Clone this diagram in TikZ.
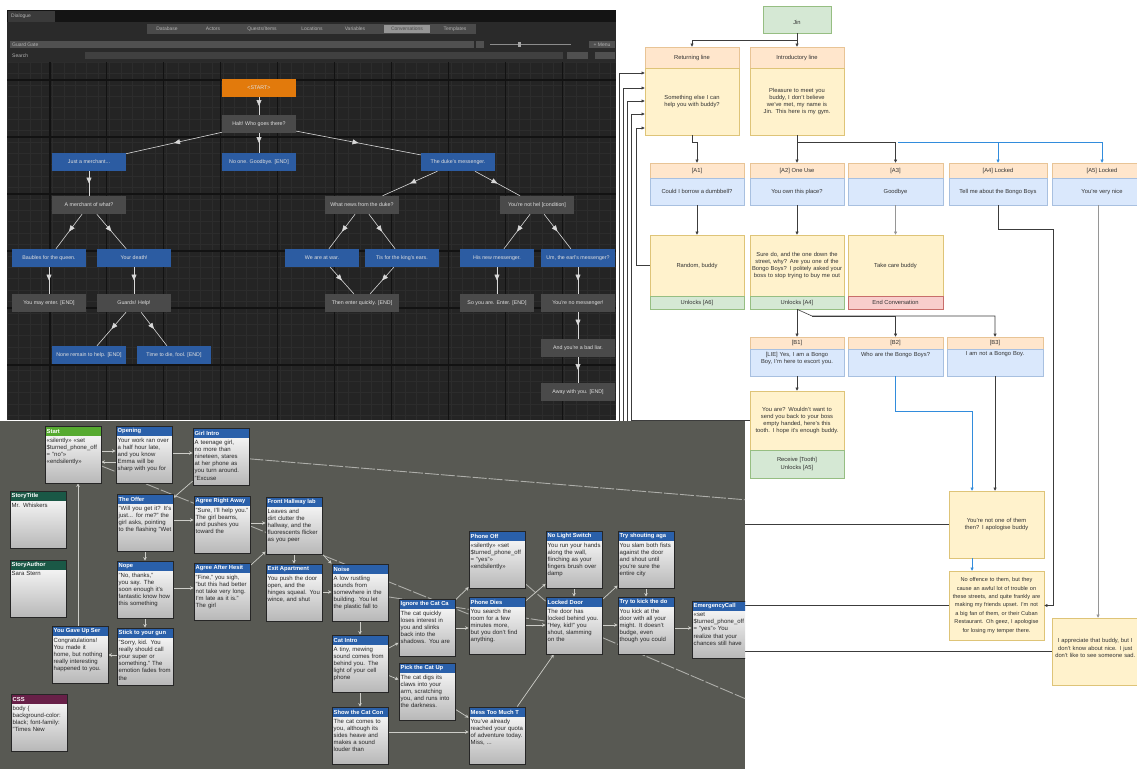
\documentclass[tikz,border=0pt]{standalone}
\usepackage{fontspec}
\setmainfont{Liberation Sans}
\usetikzlibrary{arrows.meta,decorations.markings}
\hyphenpenalty=10000
\exhyphenpenalty=10000
\pgfdeclarelayer{rpl}\pgfdeclarelayer{tpl}\pgfdeclarelayer{bpl}\pgfdeclarelayer{lnl}
\pgfsetlayers{rpl,tpl,bpl,lnl,main}
% top panel colours
\definecolor{tpbg}{RGB}{30,30,30}
\definecolor{tptitle}{RGB}{20,20,20}
\definecolor{tptab}{RGB}{58,58,58}
\definecolor{tptool}{RGB}{42,42,42}
\definecolor{tabbar}{RGB}{74,74,74}
\definecolor{tabhi}{RGB}{150,150,150}
\definecolor{fld}{RGB}{80,80,80}
\definecolor{gridbg}{RGB}{36,36,36}
\definecolor{gminor}{RGB}{44,44,44}
\definecolor{gmajor}{RGB}{18,18,18}
\definecolor{tgrayc}{RGB}{74,74,74}
\definecolor{tbluec}{RGB}{44,92,162}
\definecolor{torc}{RGB}{226,122,12}
% bottom panel colours
\definecolor{bpbg}{RGB}{88,89,83}
\definecolor{twblue}{RGB}{42,96,170}
\definecolor{twgreen}{RGB}{86,170,48}
\definecolor{twteal}{RGB}{26,88,70}
\definecolor{twpurple}{RGB}{104,32,72}
\definecolor{twlc}{RGB}{205,205,200}
% right panel colours
\definecolor{hdrf}{RGB}{255,230,204}
\definecolor{hdrd}{RGB}{232,196,150}
\definecolor{yelf}{RGB}{255,242,204}
\definecolor{yeld}{RGB}{222,196,120}
\definecolor{bluf}{RGB}{218,232,252}
\definecolor{blud}{RGB}{168,192,224}
\definecolor{grnf}{RGB}{213,232,212}
\definecolor{grnd}{RGB}{150,190,130}
\definecolor{redf}{RGB}{248,206,204}
\definecolor{redd}{RGB}{200,110,106}
\definecolor{rtc}{RGB}{50,50,50}
\definecolor{lnc}{RGB}{60,60,60}
\definecolor{blc}{RGB}{50,140,220}
\definecolor{glc}{RGB}{150,150,150}
\tikzset{
  tn/.style={minimum width=74pt, minimum height=18pt, inner sep=0pt, font=\fontsize{5.3}{6}\selectfont, text=white!88!black},
  tgray/.style={tn, fill=tgrayc},
  tblue/.style={tn, fill=tbluec},
  tor/.style={tn, fill=torc},
  tpt/.style={inner sep=0pt, font=\fontsize{5}{5.5}\selectfont, text=white!70!black},
  tedge/.style={draw=white!85!black, line width=0.6pt, postaction={decorate},
    decoration={markings, mark=at position 0.5 with {\arrow{Triangle[length=6pt,width=5pt]}}}},
  twtitle/.style={inner sep=0pt, font=\bfseries\fontsize{5.8}{6.5}\selectfont, text=white},
  twbody/.style={inner sep=0pt, text width=53pt, align=left, font=\fontsize{6}{7.2}\selectfont, text=black!85},
  twframe/.style={draw=black!85, line width=0.9pt, minimum width=56pt, minimum height=57pt, inner sep=0pt},
  twl/.style={draw=twlc, line width=0.7pt, -{Stealth[length=3.5pt,width=3.5pt]}},
  twlong/.style={draw=twlc!85!black, line width=0.9pt, dash pattern=on 14pt off 2pt},
  rpb/.style={inner sep=1pt, font=\fontsize{5.8}{7.2}\selectfont, text=rtc, align=center, line width=0.5pt},
  hd/.style={rpb, fill=hdrf, draw=hdrd},
  yb/.style={rpb, fill=yelf, draw=yeld},
  bb/.style={rpb, fill=bluf, draw=blud},
  gb/.style={rpb, fill=grnf, draw=grnd},
  rb/.style={rpb, fill=redf, draw=redd},
  rpa/.style={draw=lnc, line width=0.6pt, -{Triangle[length=3.2pt,width=3pt]}},
  rpab/.style={draw=blc, line width=0.6pt, -{Triangle[length=3.2pt,width=3pt]}},
  rpag/.style={draw=glc, line width=0.6pt, -{Triangle[length=3.2pt,width=3pt]}},
}
\newcommand\twbox[6]{%
  \begin{scope}
    \clip (0,421) rectangle (745,769);
    \begin{scope}
      \clip (#2,#3) rectangle ++(56,57);
      \shade[top color=white, bottom color=black!28] (#2,#3) rectangle ++(56,57);
      \fill[#4] (#2,#3) rectangle ++(56,10);
      \node[twtitle, anchor=west] (#1-t) at (#2+1.5,#3+5.2) {#5};
      \node[twbody, anchor=north west] (#1-b) at (#2+1.5,#3+11.5) {#6};
    \end{scope}
    \node[twframe] (#1) at (#2+28,#3+28.5) {};
  \end{scope}}
\begin{document}
\begin{tikzpicture}[x=1pt,y=-1pt]
\useasboundingbox (0,0) rectangle (1137,769);
%================ RIGHT PANEL =================
\begin{pgfonlayer}{rpl}
\fill[white] (0,0) rectangle (1137,769);
\node[gb, minimum width=68pt, minimum height=27pt] (jin) at (797,19.5) {\\[2pt]Jin};
\node[hd, minimum width=94pt, minimum height=21pt] (retH) at (692,57.5) {Returning line};
\node[yb, minimum width=94pt, minimum height=67pt, text width=86pt] (retB) at (692,101.5) {Something else I can help you with buddy?};
\node[hd, minimum width=94pt, minimum height=21pt] (intH) at (797,57.5) {Introductory line};
\node[yb, minimum width=94pt, minimum height=67pt, text width=88pt] (intB) at (797,101.5) {Pleasure to meet you buddy, I don't believe we've met, my name is Jin. This here is my gym.};
% A row
\node[hd, minimum width=94pt, minimum height=15pt] (a1H) at (697,170.5) {[A1]};
\node[bb, minimum width=94pt, minimum height=27pt] (a1B) at (697,191.5) {Could I borrow a dumbbell?};
\node[hd, minimum width=94pt, minimum height=15pt] (a2H) at (797,170.5) {[A2] One Use};
\node[bb, minimum width=94pt, minimum height=27pt] (a2B) at (797,191.5) {You own this place?};
\node[hd, minimum width=95pt, minimum height=15pt] (a3H) at (895.5,170.5) {[A3]};
\node[bb, minimum width=95pt, minimum height=27pt] (a3B) at (895.5,191.5) {Goodbye};
\node[hd, minimum width=98pt, minimum height=15pt] (a4H) at (998,170.5) {[A4] Locked};
\node[bb, minimum width=98pt, minimum height=27pt] (a4B) at (998,191.5) {Tell me about the Bongo Boys};
\node[hd, minimum width=100pt, minimum height=15pt] (a5H) at (1102,170.5) {[A5] Locked};
\node[bb, minimum width=100pt, minimum height=27pt] (a5B) at (1102,191.5) {You're very nice};
% responses
\node[yb, minimum width=94pt, minimum height=61pt] (r1B) at (697,265.5) {Random, buddy};
\node[gb, minimum width=94pt, minimum height=13pt] (r1F) at (697,302.5) {Unlocks [A6]};
\node[yb, minimum width=94pt, minimum height=61pt, text width=90pt] (r2B) at (797,265.5) {Sure do, and the one down the street, why? Are you one of the Bongo Boys? I politely asked your boss to stop trying to buy me out};
\node[gb, minimum width=94pt, minimum height=13pt] (r2F) at (797,302.5) {Unlocks [A4]};
\node[yb, minimum width=95pt, minimum height=61pt] (r3B) at (895.5,265.5) {Take care buddy};
\node[rb, minimum width=95pt, minimum height=13pt] (r3F) at (895.5,302.5) {End Conversation};
% B row
\node[hd, minimum width=94pt, minimum height=12pt] (b1H) at (797,343) {[B1]};
\node[bb, minimum width=94pt, minimum height=27pt] (b1B) at (797,362.5) {};
\node[rpb, anchor=north, text width=90pt] (b1T) at ([yshift=-2pt]b1B.north) {[LIE] Yes, I am a Bongo Boy, I'm here to escort you.};
\node[hd, minimum width=95pt, minimum height=12pt] (b2H) at (895.5,343) {[B2]};
\node[bb, minimum width=95pt, minimum height=27pt] (b2B) at (895.5,362.5) {};
\node[rpb, anchor=north, text width=90pt] (b2T) at ([yshift=-2pt]b2B.north) {Who are the Bongo Boys?};
\node[hd, minimum width=96pt, minimum height=12pt] (b3H) at (995,343) {[B3]};
\node[bb, minimum width=96pt, minimum height=27pt] (b3B) at (995,362.5) {};
\node[rpb, anchor=north, text width=90pt] (b3T) at ([yshift=-2pt]b3B.north) {I am not a Bongo Boy.};
\node[yb, minimum width=94pt, minimum height=59pt, text width=90pt] (b1rB) at (797,420.5) {You are? Wouldn't want to send you back to your boss empty handed, here's this tooth. I hope it's enough buddy.};
\node[gb, minimum width=94pt, minimum height=28pt] (b1rF) at (797,464) {Receive [Tooth]\\Unlocks [A5]};
\node[yb, minimum width=95pt, minimum height=67pt, text width=88pt] (notone) at (996.5,524.5) {You're not one of them then? I apologise buddy};
\node[yb, minimum width=95pt, minimum height=69pt, text width=92pt, font=\fontsize{5.6}{8.4}\selectfont] (nooff) at (996.5,605.5) {No offence to them, but they cause an awful lot of trouble on these streets, and quite frankly are making my friends upset. I'm not a big fan of them, or their Cuban Restaurant. Oh geez, I apologise for losing my temper there.};
\node[yb, minimum width=100pt, minimum height=67pt] (appr) at (1102,651.5) {};
\node[rpb, anchor=west, text width=82pt] (apprT) at (1053,648) {I appreciate that buddy, but I don't know about nice. I just don't like to see someone sad.};
% connectors
\coordinate (jb) at (797,40);
\draw[rpa] (jin.south) -- (jb) -| (retH.north);
\draw[rpa] (jin.south) -- (intH.north);
\coordinate (bus) at (797,142);
\coordinate (busb) at (898,142);
\draw[rpa] (retB.south) -- ++(0,7) -| (a1H.north);
\draw[rpa] (intB.south) -- (a2H.north);
\draw[rpa] (intB.south) -- (bus) -| (a3H.north);
\draw[rpab] (busb) -| (a4H.north);
\draw[rpab] (busb) -| (a5H.north);
\draw[rpa] (a1B.south) -- (r1B.north);
\draw[rpa] (a2B.south) -- (r2B.north);
\draw[rpag] (a3B.south) -- (r3B.north);
\coordinate (bs) at (812,316);
\draw[rpa] (r2F.south) -- (b1H.north);
\draw[rpa] (r2F.south) -- (bs) -| (b3H.north);
\draw[rpa] (bs) -| (b2H.north);
\draw[rpa] (b1B.south) -- (b1rB.north);
\coordinate (nb) at (972,411);
\draw[rpab] (b2B.south) |- (nb) -- (nb |- notone.north);
\draw[rpa] (b3B.south) -- (b3B.south |- notone.north);
\draw[rpab] (notone.south -| nb) -- (nooff.north -| nb);
\coordinate (a4c) at (1053,229);
\draw[rpa] (a4B.south) |- (a4c) |- (nooff.east);
\draw[rpag] (a5B.south -| 1098,0) -- (appr.north -| 1098,0);
% returns to Returning line
\coordinate (rt1) at (636,128);
\coordinate (rt2) at (631,114);
\coordinate (rt3) at (627,101);
\coordinate (rt4) at (623,88);
\coordinate (rt5) at (619,73);
\draw[rpa] (r1B.west) -| (rt1) -- (rt1 -| retB.west);
\draw[rpa] (b1rB.west) -| (rt2) -- (rt2 -| retB.west);
\draw[rpa] (notone.west) -| (rt3) -- (rt3 -| retB.west);
\draw[rpa] (nooff.west) -| (rt4) -- (rt4 -| retB.west);
\draw[rpa] (appr.west) -| (rt5) -- (rt5 -| retB.west);
\end{pgfonlayer}
%================ TOP PANEL =================
\begin{pgfonlayer}{tpl}
\fill[tpbg] (7,10) rectangle (616,420);
\fill[tptitle] (7,10) rectangle (616,22);
\fill[tptab] (8,11) rectangle (55,22);
\node[tpt, anchor=west] (dlg) at (11,16.5) {Dialogue};
\fill[tptool] (7,22) rectangle (616,62);
\fill[tabbar] (147,24) rectangle (476,34);
\fill[tabhi] (384,25) rectangle (430,33);
\node[tpt] (tab1) at (167,29) {Database};
\node[tpt] (tab2) at (213,29) {Actors};
\node[tpt] (tab3) at (262,29) {Quests/Items};
\node[tpt] (tab4) at (312,29) {Locations};
\node[tpt] (tab5) at (355,29) {Variables};
\node[tpt, text=black!70] (tab6) at (407,29) {Conversations};
\node[tpt] (tab7) at (455,29) {Templates};
\fill[fld] (10,41) rectangle (474,48);
\node[tpt, anchor=west] (gg) at (12,44.5) {Guard Gate};
\fill[fld] (476,41) rectangle (484,48);
\draw[white!55!black, line width=0.5pt] (490,44.5) -- (571,44.5);
\fill[white!65!black] (518,42) rectangle (521,47);
\fill[fld] (589,41) rectangle (615,48);
\node[tpt] (menu) at (602,44.5) {+ Menu};
\node[tpt, anchor=west] (srch) at (12,55.5) {Search};
\fill[fld!80!black] (85,52) rectangle (563,59);
\fill[fld] (567,52) rectangle (588,59);
\fill[fld] (595,52) rectangle (615,59);
\fill[gridbg] (7,62) rectangle (616,420);
\begin{scope}
\clip (7,62) rectangle (616,420);
\foreach \i in {0,...,54} {\draw[gminor, line width=0.4pt] ({7+\i*11.38},62) -- ({7+\i*11.38},420);}
\foreach \j in {0,...,32} {\draw[gminor, line width=0.4pt] (7,{62+\j*11.4}) -- (616,{62+\j*11.4});}
\foreach \i in {-1,0,...,10} {\draw[gmajor, line width=1.1pt] ({50+\i*56.9},62) -- ({50+\i*56.9},420);}
\foreach \j in {0,...,6} {\draw[gmajor, line width=1.1pt] (7,{80+\j*57}) -- (616,{80+\j*57});}
\end{scope}
\node[tor] (tStart) at (259,88) {<START>};
\node[tgray] (tHalt) at (259,124) {Halt! Who goes there?};
\node[tblue] (tJust) at (89,162) {Just a merchant...};
\node[tblue] (tNoOne) at (259,162) {No one. Goodbye. [END]};
\node[tblue] (tDuke) at (458,162) {The duke's messenger.};
\node[tgray] (tMerch) at (89,205) {A merchant of what?};
\node[tgray] (tNews) at (362,205) {What news from the duke?};
\node[tgray] (tNotHel) at (537,205) {You're not hel [condition]};
\node[tblue] (tBaub) at (49,258) {Baubles for the queen.};
\node[tblue] (tDeath) at (134,258) {Your death!};
\node[tblue] (tWar) at (322,258) {We are at war.};
\node[tblue] (tTis) at (402,258) {Tis for the king's ears.};
\node[tblue] (tHis) at (497,258) {His new messenger.};
\node[tblue] (tEarl) at (578,258) {Um, the earl's messenger?};
\node[tgray] (tMay) at (49,303) {You may enter. [END]};
\node[tgray] (tGuards) at (134,303) {Guards! Help!};
\node[tgray] (tThen) at (362,303) {Then enter quickly. [END]};
\node[tgray] (tSo) at (497,303) {So you are. Enter. [END]};
\node[tgray] (tNoMess) at (578,303) {You're no messenger!};
\node[tblue] (tNone) at (89,355) {None remain to help. [END]};
\node[tblue] (tTime) at (174,355) {Time to die, fool. [END]};
\node[tgray] (tLiar) at (578,348) {And you're a bad liar.};
\node[tgray] (tAway) at (578,392) {Away with you. [END]};
\draw[tedge] (tStart) -- (tHalt);
\draw[tedge] (tHalt) -- (tJust);
\draw[tedge] (tHalt) -- (tNoOne);
\draw[tedge] (tHalt) -- (tDuke);
\draw[tedge] (tJust) -- (tMerch);
\draw[tedge] (tDuke) -- (tNews);
\draw[tedge] (tDuke) -- (tNotHel);
\draw[tedge] (tMerch) -- (tBaub);
\draw[tedge] (tMerch) -- (tDeath);
\draw[tedge] (tBaub) -- (tMay);
\draw[tedge] (tDeath) -- (tGuards);
\draw[tedge] (tGuards) -- (tNone);
\draw[tedge] (tGuards) -- (tTime);
\draw[tedge] (tNews) -- (tWar);
\draw[tedge] (tNews) -- (tTis);
\draw[tedge] (tWar) -- (tThen);
\draw[tedge] (tTis) -- (tThen);
\draw[tedge] (tNotHel) -- (tHis);
\draw[tedge] (tNotHel) -- (tEarl);
\draw[tedge] (tHis) -- (tSo);
\draw[tedge] (tEarl) -- (tNoMess);
\draw[tedge] (tNoMess) -- (tLiar);
\draw[tedge] (tLiar) -- (tAway);
\end{pgfonlayer}
%================ BOTTOM PANEL =================
\begin{pgfonlayer}{bpl}
\fill[bpbg] (0,421) rectangle (745,769);
\end{pgfonlayer}
\twbox{start}{45}{426}{twgreen}{Start}{<<silently>> <<set \$turned\_phone\_off = "no">> <<endsilently>>}
\twbox{opening}{116}{426}{twblue}{Opening}{Your work ran over a half hour late, and you know Emma will be sharp with you for}
\twbox{girl}{193}{428}{twblue}{Girl Intro}{A teenage girl, no more than nineteen, stares at her phone as you turn around. "Excuse}
\twbox{stitle}{10}{491}{twteal}{StoryTitle}{Mr. Whiskers}
\twbox{sauthor}{10}{560}{twteal}{StoryAuthor}{Sara Stern}
\twbox{offer}{117}{494}{twblue}{The Offer}{"Will you get it? It's just... for me?" the girl asks, pointing to the flashing "Wet}
\twbox{agreeright}{194}{496}{twblue}{Agree Right Away}{"Sure, I'll help you." The girl beams, and pushes you toward the}
\twbox{front}{266}{497}{twblue}{Front Hallway lab}{Leaves and dirt clutter the hallway, and the fluorescents flicker as you peer}
\twbox{nope}{117}{561}{twblue}{Nope}{"No, thanks," you say. The soon enough it's fantastic know how this something}
\twbox{agreeafter}{194}{563}{twblue}{Agree After Hesit}{"Fine," you sigh, "but this had better not take very long. I'm late as it is." The girl}
\twbox{exit}{266}{564}{twblue}{Exit Apartment}{You push the door open, and the hinges squeal. You wince, and shut}
\twbox{gaveup}{52}{626}{twblue}{You Gave Up Ser}{Congratulations! You made it home, but nothing really interesting happened to you.}
\twbox{stick}{117}{628}{twblue}{Stick to your gun}{"Sorry, kid. You really should call your super or something." The emotion fades from the}
\twbox{css}{11}{694}{twpurple}{CSS}{body \{ background-color: black; font-family: "Times New}
\twbox{noise}{332}{564}{twblue}{Noise}{A low rustling sounds from somewhere in the building. You let the plastic fall to}
\twbox{catintro}{332}{635}{twblue}{Cat Intro}{A tiny, mewing sound comes from behind you. The light of your cell phone}
\twbox{showcat}{332}{707}{twblue}{Show the Cat Con}{The cat comes to you, although its sides heave and makes a sound louder than}
\twbox{ignorecat}{399}{599}{twblue}{Ignore the Cat Ca}{The cat quickly loses interest in you and slinks back into the shadows. You are}
\twbox{pickcat}{399}{663}{twblue}{Pick the Cat Up}{The cat digs its claws into your arm, scratching you, and runs into the darkness.}
\twbox{phoneoff}{469}{531}{twblue}{Phone Off}{<<silently>> <<set \$turned\_phone\_off = "yes">> <<endsilently>>}
\twbox{phonedies}{469}{597}{twblue}{Phone Dies}{You search the room for a few minutes more, but you don't find anything.}
\twbox{mess}{469}{707}{twblue}{Mess Too Much T}{You've already reached your quota of adventure today. Miss, ...}
\twbox{nolight}{546}{531}{twblue}{No Light Switch}{You run your hands along the wall, flinching as your fingers brush over damp}
\twbox{locked}{546}{597}{twblue}{Locked Door}{The door has locked behind you. "Hey, kid!" you shout, slamming on the}
\twbox{tryshout}{618}{531}{twblue}{Try shouting aga}{You slam both fists against the door and shout until you're sure the entire city}
\twbox{trykick}{618}{597}{twblue}{Try to kick the do}{You kick at the door with all your might. It doesn't budge, even though you could}
\twbox{emergency}{692}{601}{twblue}{EmergencyCall}{<<set \$turned\_phone\_off = "yes">> You realize that your chances still have}
\begin{pgfonlayer}{lnl}
\begin{scope}
\clip (0,421) rectangle (745,769);
\coordinate (offR1) at (760,501);
\coordinate (offR2) at (760,705);
\draw[twlong] (girl) -- (offR1);
\draw[twlong] (start) -- (phonedies);
\draw[twlong] (noise) -- (locked);
\draw[twlong] (phoneoff) -- (locked);
\draw[twlong] (locked) -- (offR2);
\draw[twl] (start.east |- 0,451) -- (opening.west |- 0,451);
\draw[twl] (opening.west |- 0,462) -- (start.east |- 0,462);
\draw[twl] (opening.east |- 0,453) -- (girl.west |- 0,453);
\draw[twl] (girl) -- (offer);
\draw[twl] (offer.east |- 0,520) -- (agreeright.west |- 0,520);
\draw[twl] (offer) -- (nope);
\draw[twl] (agreeright.east |- 0,523) -- (front.west |- 0,523);
\draw[twl] (nope.east |- 0,588) -- (agreeafter.west |- 0,588);
\draw[twl] (nope) -- (stick);
\draw[twl] (agreeafter) -- (front);
\draw[twl] (front) -- (exit);
\draw[twl] (exit.east |- 0,592) -- (noise.west |- 0,592);
\draw[twl] (front) -- (noise);
\draw[twl] (stick.west |- 0,655) -- (gaveup.east |- 0,655);
\draw[twl] (gaveup.north -| 78,0) -- (start.south -| 78,0);
\draw[twl] (noise) -- (catintro);
\draw[twl] (catintro) -- (ignorecat);
\draw[twl] (catintro) -- (pickcat);
\draw[twl] (catintro) -- (showcat);
\draw[twl] (ignorecat.east |- 0,628) -- (phonedies.west |- 0,628);
\draw[twl] (ignorecat) -- (phoneoff);
\draw[twl] (showcat.east |- 0,732) -- (mess.west |- 0,732);
\draw[twl] (pickcat) -- (mess);
\draw[twl] (phonedies) -- (nolight);
\draw[twl] (phonedies.east |- 0,625) -- (locked.west |- 0,625);
\draw[twl] (nolight) -- (locked);
\draw[twl] (mess) -- (locked);
\draw[twl] (locked) -- (tryshout);
\draw[twl] (locked.east |- 0,625) -- (trykick.west |- 0,625);
\draw[twl] (tryshout) -- (trykick);
\draw[twl] (trykick.east |- 0,628) -- (emergency.west |- 0,628);
\end{scope}
\end{pgfonlayer}
\end{tikzpicture}
\end{document}
